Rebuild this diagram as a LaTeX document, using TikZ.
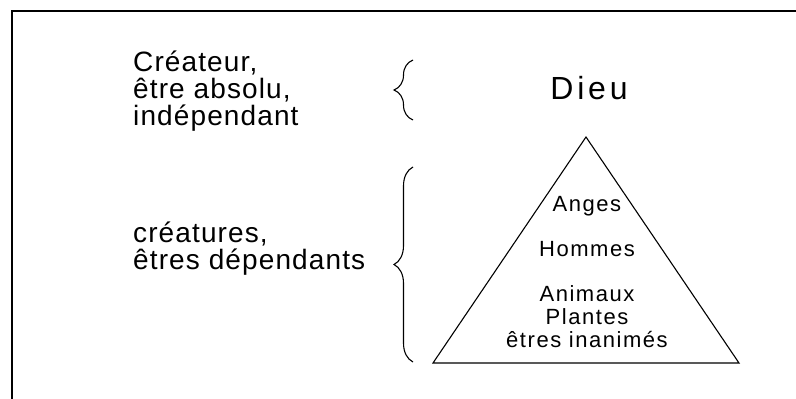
\documentclass[tikz,border=0pt]{standalone}
\usepackage{fontspec}
\setmainfont{Liberation Sans}
\usetikzlibrary{decorations.pathreplacing, positioning}

\begin{document}
\begin{tikzpicture}[x=1pt, y=-1pt]
\tikzstyle{side} = [align=left, anchor=base west, inner sep=0pt,
    font=\fontsize{28}{27}\selectfont\addfontfeature{LetterSpace=4}]
\tikzstyle{level} = [align=center, anchor=base, inner sep=0pt,
    font=\fontsize{22}{23}\selectfont\addfontfeature{LetterSpace=7}]
\tikzstyle{curly} = [draw, line width=1.1pt, decorate, decoration={brace, amplitude=19pt}]
\tikzstyle{frame} = [draw, line width=1.5pt]
    \useasboundingbox (0,0) rectangle (796,399);

    % Place nodes
    \node [side] (creator) at (133,125) {Créateur,\\être absolu,\\indépendant};
    \node [side] (creatures) at (133,269) {créatures,\\êtres dépendants};
    \node [anchor=base, inner sep=0pt,
        font=\fontsize{32}{32}\selectfont\addfontfeature{LetterSpace=12}] (god) at (589,99) {Dieu};
    \node [level] (angels) at (587,211) {Anges};
    \node [level] (men) at (587,256) {Hommes};
    \node [level] (rest) at (587,347) {Animaux\\Plantes\\êtres inanimés};

    % pyramid corners
    \coordinate (apex) at (586,137);
    \coordinate (baseL) at (433,363);
    \coordinate (baseR) at (739,363);

    % brace ends
    \coordinate (topA) at (413,60);
    \coordinate (topB) at (413,120);
    \coordinate (lowA) at (413,167);
    \coordinate (lowB) at (413,362);

%paths
    \path [frame] (12,399) -- (12,11) -- (796,11);
    \draw [line width=1.1pt, line join=miter] (apex) -- (baseL) -- (baseR) -- cycle;
    \path [curly] (topB) -- (topA);
    \path [curly] (lowB) -- (lowA);

\end{tikzpicture}
\end{document}
